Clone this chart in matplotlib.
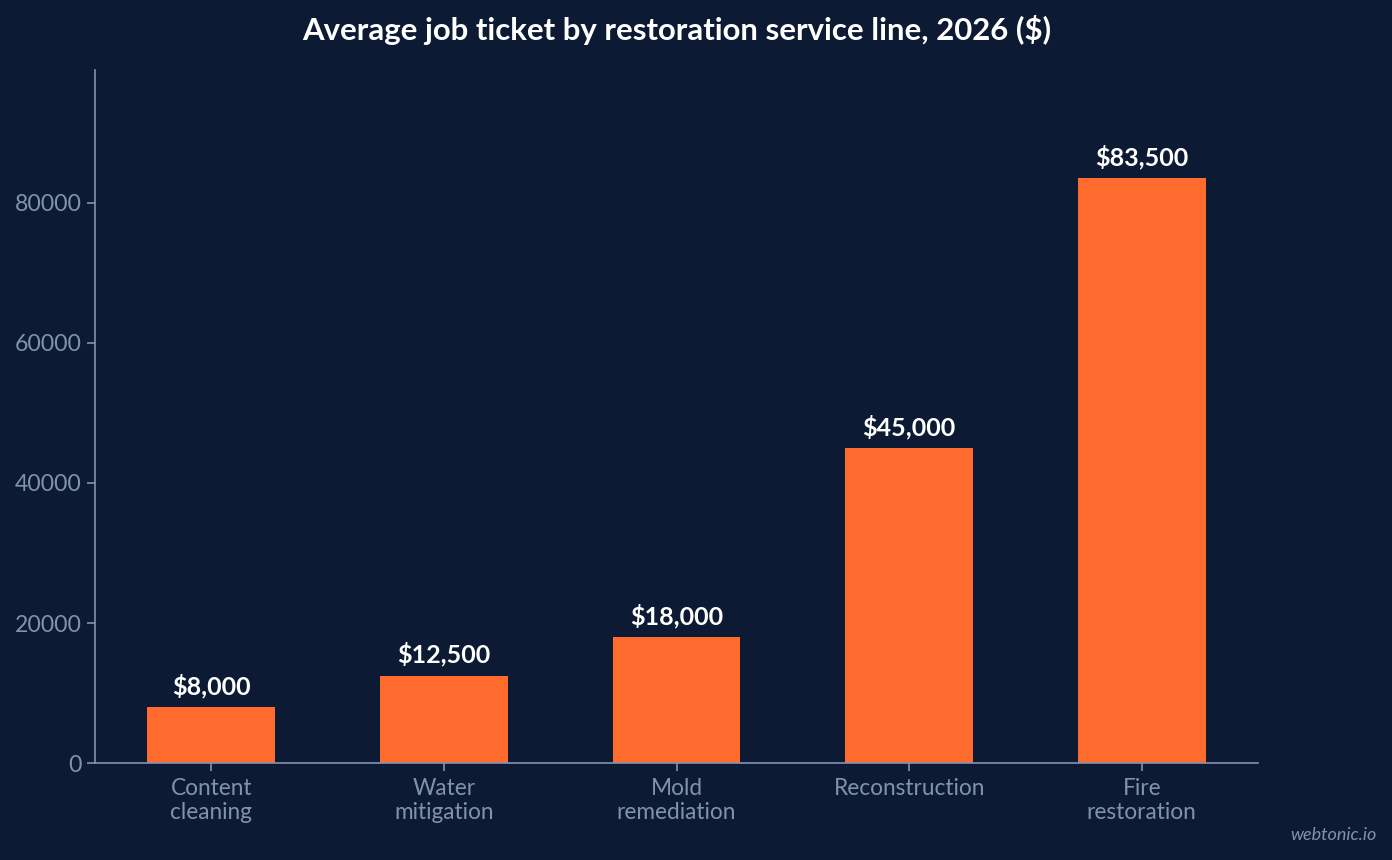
import matplotlib
matplotlib.use("Agg")
import matplotlib.pyplot as plt

categories = ["Content\ncleaning", "Water\nmitigation", "Mold\nremediation", "Reconstruction", "Fire\nrestoration"]
values = [8000, 12500, 18000, 45000, 83500]
yticks = [0, 20000, 40000, 60000, 80000]

BG = "#0c1b33"
BAR = "#ff6b2c"
AX = "#8093ae"

plt.rcParams['font.family'] = ['Lato', 'DejaVu Sans']

fig = plt.figure(figsize=(13.92, 8.6), dpi=100, facecolor=BG)
ax = fig.add_axes([95/1392, 1-763/860, (1258-95)/1392, (763-70)/860])
ax.set_facecolor(BG)

x = list(range(len(categories)))
ax.bar(x, values, width=0.55, color=BAR, zorder=2)
for xi, v in zip(x, values):
    ax.annotate(f"${v:,.0f}", (xi, v), xytext=(0, 6.5), textcoords="offset points",
                ha="center", va="bottom", color="white", fontsize=18, fontweight="bold")

ax.set_xlim(-0.5, 4.5)
ax.set_ylim(0, 99000)
ax.set_xticks(x)
ax.set_xticklabels(categories, fontsize=16.3, color=AX, linespacing=1.18)
ax.set_yticks(yticks)
ax.set_yticklabels([str(t) for t in yticks], fontsize=16.6, color=AX)
ax.tick_params(axis="both", colors=AX, length=6, width=1.2)
ax.tick_params(axis="x", pad=5)
for s in ["top", "right"]:
    ax.spines[s].set_visible(False)
for s in ["left", "bottom"]:
    ax.spines[s].set_color(AX)
    ax.spines[s].set_linewidth(1.2)

fig.text(676.5/1392, 1-30/860, "Average job ticket by restoration service line, 2026 ($)",
         ha="center", va="center", color="white", fontsize=22.4, fontweight="bold")
fig.text(1377/1392, 1-835/860, "webtonic.io", ha="right", va="center",
         color=AX, fontsize=13, style="italic")

fig.savefig("out.png", dpi=100, facecolor=BG)
